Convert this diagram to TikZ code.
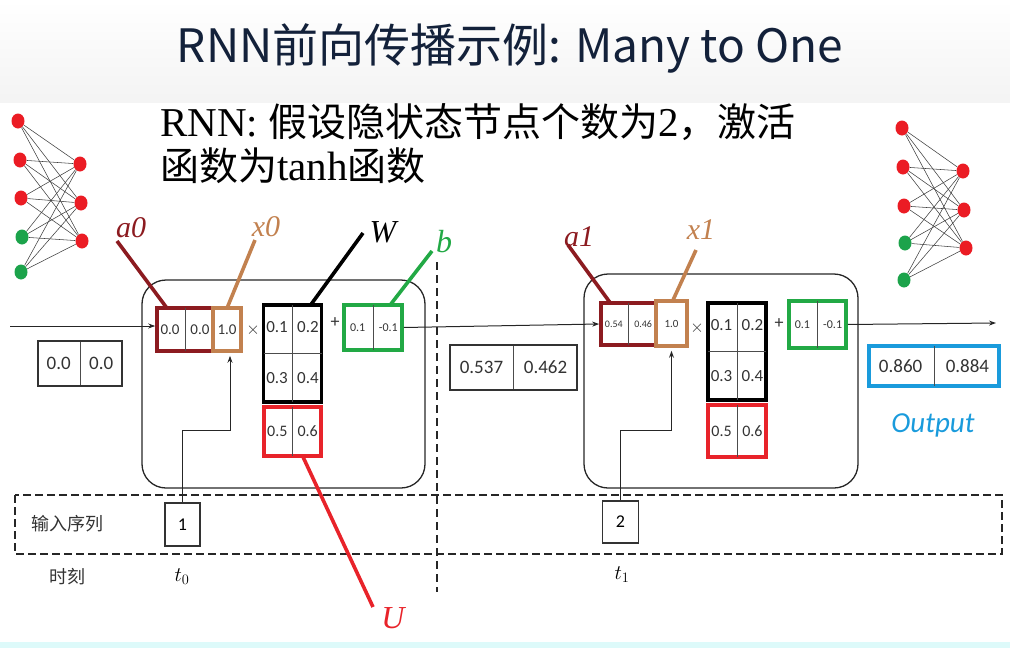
\documentclass[tikz,border=0pt]{standalone}
\usepackage{fontspec}
\setmainfont{Liberation Serif}
\newfontfamily\cjk{Noto Sans CJK SC}
\newfontfamily\numf{Carlito}
\usetikzlibrary{arrows.meta,shapes.geometric,calc}

\definecolor{navy}{HTML}{13213A}
\definecolor{darkred}{HTML}{8C1B20}
\definecolor{tanc}{HTML}{C2814F}
\definecolor{gbox}{HTML}{22A945}
\definecolor{rbox}{HTML}{E8232A}
\definecolor{obox}{HTML}{1A9BDC}
\definecolor{ngreen}{HTML}{1CA34B}
\definecolor{nred}{HTML}{EB1C24}
\definecolor{strip}{HTML}{DDFAFA}

\tikzset{
  cellbox/.style={draw=black!85, line width=1.3pt, rounded corners=24pt},
  mbox/.style={draw, line width=3.6pt, inner sep=0pt},
  sbox/.style={draw=black!80, line width=1.1pt, inner sep=0pt},
  num/.style={font=\numf\fontsize{#1}{#1}\selectfont, text=black!80, inner sep=0pt},
  num/.default=13,
  lab/.style={font=\itshape\fontsize{30}{30}\selectfont, inner sep=0pt},
  lead/.style={line width=3.6pt},
  flow/.style={line width=1pt, draw=black!85, -{Stealth[length=7pt,width=5pt]}},
  neuron/.style={ellipse, minimum width=13pt, minimum height=15pt, inner sep=0pt},
  syn/.style={line width=0.55pt, black!75},
  divider/.style={black!70, line width=0.8pt},
}

% two-cell box: name, x, y, width, height, box style, left text, right text, font size
\newcommand\twobox[9]{%
  \node[#6, minimum width=#4pt, minimum height=#5pt] (#1) at (#2,#3) {};
  \draw[divider] ([yshift=-1.8pt]#1.north) -- ([yshift=1.8pt]#1.south);
  \node[num=#9] (#1-l) at ($(#1.west)!0.25!(#1.east)$) {#7};
  \node[num=#9] (#1-r) at ($(#1.west)!0.75!(#1.east)$) {#8};
}
% 2x2 weight matrix
\newcommand\wmatrix[3]{%
  \node[mbox, draw=black, minimum width=58pt, minimum height=97pt] (#1) at (#2,#3) {};
  \draw[divider] ([yshift=-1.8pt]#1.north) -- ([yshift=1.8pt]#1.south);
  \draw[divider] ([xshift=1.8pt]#1.west) -- ([xshift=-1.8pt]#1.east);
  \node[num=17] (#1-a) at ($(#1.north west)!0.25!(#1.north east)+(0,24)$) {0.1};
  \node[num=17] (#1-b) at ($(#1.north west)!0.75!(#1.north east)+(0,24)$) {0.2};
  \node[num=17] (#1-c) at ($(#1.north west)!0.25!(#1.north east)+(0,75)$) {0.3};
  \node[num=17] (#1-d) at ($(#1.north west)!0.75!(#1.north east)+(0,75)$) {0.4};
}

\begin{document}
\begin{tikzpicture}[x=1pt, y=-1pt]
\useasboundingbox (0,0) rectangle (1010,648);

% header band and footer strip
\shade[top color=white, bottom color=gray!9] (0,0) rectangle (1010,102);
\fill[strip] (0,642) rectangle (1010,648);

\node[font=\cjk\fontsize{46}{46}\selectfont, text=navy, inner sep=0pt] (title) at (510,48)
  {RNN前向传播示例: Many to One};

\node[anchor=west, font=\fontsize{41}{41}\selectfont, inner sep=0pt] (desc1) at (160,122)
  {RNN: {\cjk\fontsize{39}{39}\selectfont 假设隐状态节点个数为}2{\cjk\fontsize{39}{39}\selectfont ，激活}};
\node[anchor=west, font=\fontsize{41}{41}\selectfont, inner sep=0pt] (desc2) at (160,166)
  {{\cjk\fontsize{39}{39}\selectfont 函数为}tanh{\cjk\fontsize{39}{39}\selectfont 函数}};

% small fully connected networks
\foreach \i/\x/\y/\c in {1/18/121/nred, 2/20/160/nred, 3/21/198/nred, 4/22/237/ngreen, 5/21/272/ngreen}
  \node[neuron, fill=\c] (li\i) at (\x,\y) {};
\foreach \j/\x/\y in {1/80/164, 2/81/203, 3/82/241}
  \node[neuron, fill=nred] (lo\j) at (\x,\y) {};
\foreach \i in {1,...,5} \foreach \j in {1,2,3} \draw[syn] (li\i) -- (lo\j);

\foreach \i/\x/\y/\c in {1/902/128/nred, 2/903/167/nred, 3/904/206/nred, 4/905/243/ngreen, 5/904/280/ngreen}
  \node[neuron, fill=\c] (ri\i) at (\x,\y) {};
\foreach \j/\x/\y in {1/963/171, 2/964/210, 3/966/248}
  \node[neuron, fill=nred] (ro\j) at (\x,\y) {};
\foreach \i in {1,...,5} \foreach \j in {1,2,3} \draw[syn] (ri\i) -- (ro\j);

% recurrent cells
\node[cellbox, minimum width=283pt, minimum height=208pt] (cell0) at (283.5,384) {};
\node[cellbox, minimum width=274pt, minimum height=214pt] (cell1) at (721,381) {};

% input sequence band and time separator
\draw[dashed, dash pattern=on 8pt off 4pt, line width=1.5pt, black!85] (15,495) rectangle (1002,554);
\draw[dashed, dash pattern=on 8pt off 5pt, line width=1.5pt, black!85] (437,262) -- (437,592);
\node[font=\cjk\fontsize{18}{18}\selectfont, text=black!80, inner sep=0pt] (seqlab) at (67,524) {输入序列};
\node[font=\cjk\fontsize{18}{18}\selectfont, text=black!80, inner sep=0pt] (timelab) at (67,577) {时刻};
\node[font=\fontsize{21}{21}\selectfont, inner sep=0pt] (t0) at (182,577) {$t_0$};
\node[font=\fontsize{21}{21}\selectfont, inner sep=0pt] (t1) at (622,575) {$t_1$};

% step t0
\twobox{a0}{185}{329.5}{56}{43}{mbox, draw=darkred}{0.0}{0.0}{15}
\node[mbox, draw=tanc, minimum width=28pt, minimum height=43pt] (x0) at (227,329.5) {};
\node[num=15] (x0-v) at (x0) {1.0};
\node[num=18] (mul0) at (253,330) {$\times$};
\wmatrix{W0}{292.5}{353.5}
\twobox{U0}{292.5}{431.5}{57}{49}{mbox, draw=rbox}{0.5}{0.6}{16}
\node[num=18] (add0) at (335,323) {+};
\twobox{b0}{373}{327.5}{58}{45}{mbox, draw=gbox}{0.1}{-0.1}{12}

% step t1
\twobox{a1}{628.5}{324}{55}{42}{mbox, draw=darkred}{0.54}{0.46}{10}
\node[mbox, draw=tanc, minimum width=31pt, minimum height=45pt] (x1) at (671.5,323.5) {};
\node[num=11] (x1-v) at (x1) {1.0};
\node[num=18] (mul1) at (697,328) {$\times$};
\wmatrix{W1}{737}{351.5}
\twobox{U1}{737}{431}{58}{52}{mbox, draw=rbox}{0.5}{0.6}{16}
\node[num=18] (add1) at (779,324) {+};
\twobox{b1}{817.5}{324.5}{57}{47}{mbox, draw=gbox}{0.1}{-0.1}{12}

% hidden states and output
\twobox{h0}{80}{363.5}{84}{45}{sbox}{0.0}{0.0}{19}
\twobox{h1}{513.5}{367.5}{127}{45}{sbox}{0.537}{0.462}{19}
\twobox{out}{934}{366}{130}{40}{mbox, draw=obox}{0.860}{0.884}{19}
\node[font=\numf\itshape\fontsize{29}{29}\selectfont, text=obox, inner sep=0pt] (outlab) at (933,425) {Output};

% inputs
\node[sbox, minimum width=35pt, minimum height=43pt, font=\numf\fontsize{18}{18}\selectfont] (in1) at (182.5,524.5) {1};
\node[sbox, minimum width=36pt, minimum height=42pt, font=\numf\fontsize{18}{18}\selectfont] (in2) at (620.5,522) {2};

% flow of the hidden state
\coordinate (start) at (10,326);
\coordinate (end) at (996,323);
\draw[flow] (start) -- (start -| a0.west);
\draw[flow] (b0.east) -- (a1.west);
\draw[flow] (b1.east) -- (end);
\draw[flow] (in1.north) -- (in1.north |- 0,430) -| ([xshift=3pt, yshift=-3pt]x0.south);
\draw[flow] (in2.north) -- (in2.north |- 0,430) -| ([yshift=-3pt]x1.south);

% labels and their leaders
\coordinate (ta0) at (117,241);
\coordinate (tx0) at (255,240);
\coordinate (tW) at (363,233);
\coordinate (tb) at (432,251);
\coordinate (tU) at (373,607);
\coordinate (ta1) at (568,245);
\coordinate (tx1) at (696,250);
\draw[lead, darkred] ([xshift=-18pt, yshift=-2pt]a0.north) -- (ta0);
\draw[lead, tanc] ([yshift=-2pt]x0.north) -- (tx0);
\draw[lead, black] ([xshift=18pt, yshift=-2pt]W0.north) -- (tW);
\draw[lead, gbox] ([xshift=17pt, yshift=-2pt]b0.north) -- (tb);
\draw[lead, rbox] ([xshift=10pt, yshift=2pt]U0.south) -- (tU);
\draw[lead, darkred] ([xshift=-18pt, yshift=-2pt]a1.north) -- (ta1);
\draw[lead, tanc] ([xshift=1pt, yshift=-2pt]x1.north) -- (tx1);

\node[lab, text=darkred] (la0) at (131,228) {a0};
\node[lab, text=tanc] (lx0) at (266,227) {x0};
\node[lab, text=black, font=\itshape\fontsize{32}{32}\selectfont] (lW) at (383,232) {W};
\node[lab, text=gbox, font=\itshape\fontsize{32}{32}\selectfont] (lb) at (444,242) {b};
\node[lab, text=rbox, font=\itshape\fontsize{32}{32}\selectfont] (lU) at (393,618) {U};
\node[lab, text=darkred] (la1) at (579,237) {a1};
\node[lab, text=tanc] (lx1) at (701,230) {x1};
\end{tikzpicture}
\end{document}
